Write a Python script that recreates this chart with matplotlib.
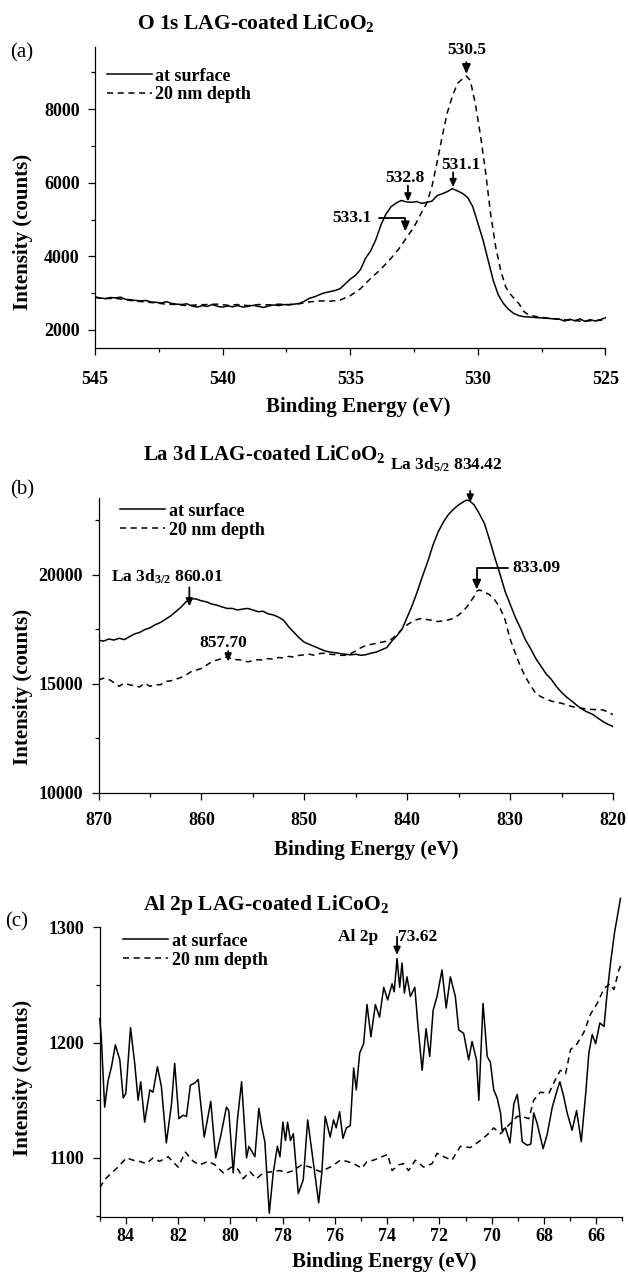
import matplotlib
matplotlib.use('Agg')
import matplotlib.pyplot as plt
from matplotlib.ticker import MultipleLocator

plt.rcParams['font.family'] = ['Liberation Serif', 'DejaVu Serif']
plt.rcParams['font.weight'] = 'bold'
plt.rcParams['axes.labelweight'] = 'bold'
plt.rcParams['mathtext.default'] = 'regular'

# ---------------- data: (a) O 1s ----------------
o1s_e_surface = [545.0, 544.8, 544.6, 544.4, 544.2, 544.0, 543.8, 543.6, 543.4, 543.2, 543.0, 542.8,
                 542.6, 542.4, 542.2, 542.0, 541.8, 541.6, 541.4, 541.2, 541.0, 540.8, 540.6, 540.4,
                 540.2, 540.0, 539.8, 539.6, 539.4, 539.2, 539.0, 538.8, 538.6, 538.4, 538.2, 538.0,
                 537.8, 537.6, 537.4, 537.2, 537.0, 536.8, 536.6, 536.4, 536.2, 536.0, 535.8, 535.6,
                 535.4, 535.2, 535.0, 534.8, 534.6, 534.4, 534.2, 534.0, 533.8, 533.6, 533.4, 533.2,
                 533.0, 532.8, 532.6, 532.4, 532.2, 532.0, 531.8, 531.6, 531.4, 531.2, 531.0, 530.8,
                 530.6, 530.4, 530.2, 530.0, 529.8, 529.6, 529.4, 529.2, 529.0, 528.8, 528.6, 528.4,
                 528.2, 528.0, 527.6, 527.2, 526.8, 526.6, 526.4, 526.2, 526.0, 525.8, 525.6, 525.4,
                 525.2, 525.0]
o1s_surface = [2900, 2870, 2850, 2880, 2870, 2890, 2830, 2820, 2800, 2790, 2800, 2760,
               2750, 2730, 2770, 2720, 2700, 2690, 2710, 2650, 2620, 2660, 2640, 2690,
               2640, 2620, 2650, 2630, 2660, 2620, 2640, 2670, 2640, 2610, 2650, 2680,
               2660, 2690, 2680, 2700, 2720, 2780, 2860, 2900, 2960, 3010, 3040, 3070,
               3120, 3250, 3380, 3480, 3640, 3950, 4150, 4450, 4850, 5150, 5350, 5450,
               5520, 5480, 5470, 5490, 5440, 5470, 5500, 5650, 5700, 5760, 5840, 5780,
               5710, 5600, 5350, 4900, 4450, 3900, 3350, 2950, 2720, 2560, 2450, 2390,
               2360, 2350, 2330, 2310, 2290, 2240, 2290, 2250, 2300, 2230, 2280, 2240,
               2280, 2330]
o1s_e_depth = [545.0, 544.6, 544.2, 543.8, 543.4, 543.0, 542.6, 542.2, 541.8, 541.4, 541.0, 540.6,
               540.2, 539.8, 539.4, 539.0, 538.6, 538.2, 537.8, 537.4, 537.0, 536.6, 536.2, 535.8,
               535.4, 535.0, 534.6, 534.2, 533.8, 533.4, 533.1, 532.8, 532.5, 532.2, 532.0, 531.8,
               531.6, 531.4, 531.2, 531.0, 530.8, 530.6, 530.45, 530.3, 530.1, 529.9, 529.7, 529.5,
               529.3, 529.1, 528.9, 528.7, 528.4, 528.2, 528.0, 527.6, 527.0, 526.5, 526.0, 525.5,
               525.0]
o1s_depth = [2880, 2850, 2860, 2820, 2780, 2760, 2730, 2700, 2690, 2660, 2680, 2690,
             2700, 2670, 2690, 2660, 2690, 2680, 2700, 2690, 2710, 2760, 2790, 2780,
             2810, 2930, 3120, 3400, 3650, 3950, 4200, 4500, 4800, 5200, 5450, 5900,
             6550, 7250, 7900, 8350, 8700, 8830, 8900, 8790, 8150, 7300, 6300, 5150,
             4250, 3600, 3150, 2950, 2720, 2500, 2400, 2350, 2300, 2270, 2240, 2250,
             2270]

# ---------------- data: (b) La 3d ----------------
la3d_e_surface = [870, 869.5, 869, 868.5, 868, 867.5, 867, 866.5, 866, 865.5, 865, 864.5, 864, 863.5,
                  863, 862.5, 862, 861.5, 861, 860.5, 860, 859.5, 859, 858.5, 858, 857.5, 857, 856.5,
                  856, 855.5, 855, 854.5, 854, 853.5, 853, 852.5, 852, 851.5, 851, 850.5, 850, 849.5,
                  849, 848.5, 848, 847.5, 847, 846.5, 846, 845.5, 845, 844.5, 844, 843.5, 843, 842.5,
                  842, 841.5, 841, 840.5, 840, 839.5, 839, 838.5, 838, 837.5, 837, 836.5, 836, 835.5,
                  835, 834.5, 834.2, 833.9, 833.5, 833, 832.5, 832, 831.5, 831, 830.5, 830, 829.5, 829,
                  828.5, 828, 827.5, 827, 826.5, 826, 825.5, 825, 824.5, 824, 823.5, 823, 822.5, 822,
                  821.5, 821, 820.5, 820]
la3d_surface = [17000, 16950, 17050, 17000, 17080, 17020, 17150, 17280, 17350, 17480, 17560, 17700, 17800, 17950,
                18100, 18300, 18500, 18750, 18900, 18880, 18800, 18750, 18650, 18600, 18520, 18450, 18450, 18380,
                18420, 18450, 18380, 18300, 18320, 18200, 18150, 18050, 17900, 17600, 17350, 17100, 16900, 16800,
                16700, 16600, 16500, 16450, 16420, 16380, 16350, 16320, 16350, 16300, 16330, 16400, 16450, 16550,
                16650, 16950, 17200, 17500, 18050, 18600, 19250, 19950, 20600, 21350, 21950, 22400, 22750, 23000,
                23200, 23350, 23420, 23370, 23200, 22800, 22350, 21600, 20800, 20050, 19250, 18650, 18050, 17550,
                17000, 16600, 16150, 15800, 15450, 15200, 14870, 14600, 14380, 14200, 14000, 13830, 13700, 13600,
                13430, 13270, 13140, 13030]
la3d_e_depth = [870, 869.5, 869, 868.5, 868, 867.5, 867, 866.5, 866, 865.5, 865, 864.5, 864, 863.5,
                863, 862.5, 862, 861.5, 861, 860.5, 860, 859.5, 859, 858.5, 858, 857.5, 857, 856.5,
                856, 855.5, 855, 854.5, 854, 853.5, 853, 852.5, 852, 851.5, 851, 850.5, 850, 849.5,
                849, 848.5, 848, 847.5, 847, 846.5, 846, 845.5, 845, 844.5, 844, 843.5, 843, 842.5,
                842, 841.5, 841, 840.5, 840, 839.5, 839, 838.5, 838, 837.5, 837, 836.5, 836, 835.5,
                835, 834.5, 834, 833.5, 833.2, 833, 832.5, 832, 831.5, 831, 830.5, 830, 829.5, 829,
                828.5, 828, 827.5, 827, 826.5, 826, 825.5, 825, 824.5, 824, 823.5, 823, 822.5, 822,
                821.5, 821, 820.5, 820]
la3d_depth = [15170, 15250, 15200, 15050, 14880, 15020, 14950, 14900, 14850, 15020, 14880, 14950, 14950, 15100,
              15130, 15200, 15280, 15400, 15550, 15620, 15700, 15850, 16000, 16080, 16150, 16230, 16120, 16100,
              16080, 16000, 16050, 16100, 16080, 16150, 16120, 16200, 16180, 16250, 16220, 16300, 16320, 16350,
              16300, 16380, 16400, 16350, 16330, 16300, 16300, 16380, 16500, 16650, 16750, 16800, 16850, 16900,
              16950, 17050, 17250, 17500, 17700, 17850, 17950, 18000, 17930, 17900, 17850, 17880, 17920, 18000,
              18150, 18350, 18650, 19000, 19250, 19300, 19200, 19080, 18850, 18500, 17950, 17050, 16400, 15800,
              15300, 14900, 14550, 14400, 14300, 14200, 14150, 14100, 14030, 13950, 13900, 13870, 13830, 13820,
              13800, 13800, 13700, 13580]

# ---------------- data: (c) Al 2p ----------------
al2p_e_surface = [85.0, 84.94, 84.81, 84.68, 84.55, 84.40, 84.23, 84.10, 84.00, 83.82, 83.66, 83.53,
                  83.43, 83.28, 83.08, 82.96, 82.79, 82.64, 82.45, 82.25, 82.13, 81.97, 81.81, 81.68,
                  81.53, 81.36, 81.23, 81.00, 80.75, 80.56, 80.36, 80.15, 80.06, 79.89, 79.73, 79.57,
                  79.38, 79.29, 79.06, 78.91, 78.80, 78.68, 78.51, 78.36, 78.20, 78.10, 77.99, 77.89,
                  77.81, 77.70, 77.59, 77.40, 77.21, 77.04, 76.82, 76.62, 76.50, 76.37, 76.18, 76.05,
                  75.95, 75.82, 75.69, 75.56, 75.41, 75.28, 75.18, 75.05, 74.90, 74.77, 74.62, 74.45,
                  74.29, 74.13, 73.98, 73.81, 73.73, 73.62, 73.52, 73.43, 73.34, 73.24, 73.11, 72.94,
                  72.83, 72.66, 72.51, 72.37, 72.24, 72.09, 71.90, 71.74, 71.58, 71.39, 71.26, 71.07,
                  70.88, 70.75, 70.58, 70.49, 70.33, 70.17, 70.05, 69.92, 69.79, 69.66, 69.60, 69.47,
                  69.30, 69.15, 69.02, 68.93, 68.83, 68.64, 68.50, 68.39, 68.26, 68.03, 67.87, 67.68,
                  67.49, 67.39, 67.24, 67.11, 66.92, 66.75, 66.57, 66.40, 66.28, 66.15, 66.02, 65.86,
                  65.70, 65.58, 65.45, 65.30, 65.07]
al2p_surface = [1221, 1205, 1144, 1167, 1179, 1198, 1185, 1152, 1156, 1213, 1182, 1150,
                1166, 1131, 1159, 1157, 1179, 1162, 1113, 1147, 1182, 1134, 1137, 1136,
                1163, 1165, 1168, 1118, 1149, 1100, 1120, 1144, 1141, 1087, 1133, 1166,
                1100, 1110, 1101, 1143, 1127, 1114, 1052, 1087, 1110, 1101, 1131, 1115,
                1131, 1115, 1121, 1069, 1081, 1133, 1095, 1061, 1087, 1136, 1118, 1133,
                1126, 1140, 1117, 1126, 1128, 1178, 1159, 1191, 1199, 1233, 1205, 1233,
                1222, 1248, 1237, 1251, 1244, 1273, 1248, 1269, 1243, 1257, 1240, 1248,
                1217, 1176, 1212, 1188, 1228, 1240, 1263, 1230, 1257, 1240, 1211, 1208,
                1185, 1201, 1185, 1150, 1234, 1188, 1183, 1159, 1152, 1139, 1124, 1126,
                1113, 1147, 1155, 1139, 1114, 1111, 1112, 1139, 1130, 1108, 1121, 1144,
                1159, 1166, 1153, 1139, 1124, 1141, 1114, 1156, 1191, 1207, 1199, 1217,
                1214, 1243, 1269, 1295, 1325]
al2p_e_depth = [85.0, 84.81, 84.55, 84.30, 83.98, 83.72, 83.47, 83.21, 82.96, 82.71, 82.38, 82.00,
                81.72, 81.42, 81.17, 80.85, 80.59, 80.27, 79.96, 79.70, 79.51, 79.25, 79.00, 78.74,
                78.42, 78.10, 77.85, 77.59, 77.27, 76.94, 76.56, 76.18, 75.79, 75.54, 75.28, 74.96,
                74.77, 74.52, 74.20, 73.98, 73.81, 73.56, 73.37, 73.18, 72.92, 72.60, 72.28, 72.09,
                71.83, 71.52, 71.20, 70.81, 70.49, 70.17, 69.92, 69.66, 69.28, 69.02, 68.83, 68.58,
                68.39, 68.13, 67.81, 67.56, 67.37, 67.17, 66.98, 66.73, 66.47, 66.21, 65.96, 65.70,
                65.47, 65.32, 65.13, 65.00]
al2p_depth = [1074, 1081, 1087, 1092, 1100, 1098, 1097, 1095, 1100, 1097, 1101, 1092,
              1105, 1097, 1094, 1097, 1094, 1087, 1092, 1090, 1082, 1088, 1082, 1087,
              1088, 1089, 1087, 1089, 1094, 1092, 1088, 1092, 1098, 1097, 1095, 1091,
              1097, 1098, 1101, 1103, 1089, 1094, 1095, 1089, 1098, 1092, 1095, 1104,
              1101, 1098, 1110, 1109, 1114, 1120, 1126, 1121, 1130, 1136, 1136, 1134,
              1150, 1157, 1156, 1168, 1176, 1173, 1194, 1199, 1209, 1225, 1234, 1247,
              1251, 1246, 1263, 1270]

series_labels = ['at surface', '20 nm depth']

# ---------------- figure ----------------
W, H = 628, 1277
fig = plt.figure(figsize=(W / 100, H / 100), dpi=100)
fig.patch.set_facecolor('white')


def px_axes(l, r, t, b):
    return fig.add_axes([l / W, 1 - b / H, (r - l) / W, (b - t) / H])


def fig_text(px, py, s, **kw):
    fig.text(px / W, 1 - py / H, s, **kw)


LW = 1.1
DASH = (0, (4, 3))
ARROW = dict(arrowstyle='-|>,head_length=0.45,head_width=0.2', lw=1.3, color='black',
             shrinkA=1, shrinkB=0)
ANN_FS = 12.5


def style(ax, xlim, ylim, xmaj, xmin, ymaj, ymin, xpad, ypad):
    ax.set_xlim(*xlim)
    ax.set_ylim(*ylim)
    for s in ['top', 'right']:
        ax.spines[s].set_visible(False)
    for s in ['left', 'bottom']:
        ax.spines[s].set_linewidth(0.9)
    ax.xaxis.set_major_locator(MultipleLocator(xmaj))
    ax.xaxis.set_minor_locator(MultipleLocator(xmin))
    ax.yaxis.set_major_locator(MultipleLocator(ymaj))
    ax.yaxis.set_minor_locator(MultipleLocator(ymin))
    ax.tick_params(which='major', direction='out', length=5, width=0.9, labelsize=13)
    ax.tick_params(which='minor', direction='out', length=3, width=0.9)
    ax.tick_params(axis='x', which='major', pad=xpad)
    ax.tick_params(axis='y', which='major', pad=ypad)


def labels(ax, xl, yl):
    ax.set_xlabel('Binding Energy (eV)', fontsize=15)
    ax.set_ylabel('Intensity (counts)', fontsize=15)
    ax.xaxis.label.set_va('center')
    ax.yaxis.label.set_va('center')
    ax.xaxis.set_label_coords(*xl)
    ax.yaxis.set_label_coords(*yl)


def legend(ax, x, y):
    ax.legend(loc='upper left', bbox_to_anchor=(x, y), frameon=False, fontsize=13,
              handlelength=2.5, handletextpad=0.2, labelspacing=0.1,
              borderpad=0, borderaxespad=0)


# ----- (a) -----
axa = px_axes(95, 605.5, 46.7, 348.3)
axa.plot(o1s_e_surface, o1s_surface, color='black', lw=LW, label=series_labels[0])
axa.plot(o1s_e_depth, o1s_depth, color='black', lw=LW, ls=DASH, label=series_labels[1])
style(axa, (545, 525), (1500, 9700), 5, 2.5, 2000, 1000, 11, 6)
labels(axa, (0.515, -0.195), (-0.141, 0.386))
legend(axa, 0.0229, 0.931)
axa.annotate('530.5', xy=(530.45, 8960), xytext=(530.45, 9610), ha='center', va='center',
             fontsize=ANN_FS, arrowprops=ARROW, annotation_clip=False)
axa.text(530.66, 6484, '531.1', ha='center', va='center', fontsize=ANN_FS)
axa.annotate('', xy=(530.97, 5880), xytext=(530.97, 6320), arrowprops=ARROW)
axa.text(532.86, 6122, '532.8', ha='center', va='center', fontsize=ANN_FS)
axa.annotate('', xy=(532.74, 5490), xytext=(532.74, 5960), arrowprops=ARROW)
axa.annotate('533.1', xy=(532.84, 4680), xytext=(534.15, 5043), ha='right', va='center',
             fontsize=ANN_FS,
             arrowprops=dict(ARROW, shrinkA=3, connectionstyle='angle,angleA=0,angleB=90,rad=0'))
fig_text(137, 23, 'O 1s LAG-coated LiCoO$_2$', fontsize=15.5, ha='left', va='center')
fig_text(10, 53, '(a)', fontsize=15, fontweight='normal', ha='left', va='center')

# ----- (b) -----
axb = px_axes(98.5, 613, 498.3, 792.7)
axb.plot(la3d_e_surface, la3d_surface, color='black', lw=LW, label=series_labels[0])
axb.plot(la3d_e_depth, la3d_depth, color='black', lw=LW, ls=DASH, label=series_labels[1])
style(axb, (870, 820), (10000, 23500), 10, 5, 5000, 2500, 9, 6)
labels(axb, (0.52, -0.195), (-0.147, 0.359))
legend(axb, 0.0418, 0.985)
axb.text(836.25, 25050, 'La 3d$_{5/2}$ 834.42', ha='center', va='center', fontsize=ANN_FS)
axb.annotate('', xy=(833.88, 23300), xytext=(833.88, 23900), arrowprops=ARROW, annotation_clip=False)
axb.text(863.35, 19922, 'La 3d$_{3/2}$ 860.01', ha='center', va='center', fontsize=ANN_FS)
axb.annotate('', xy=(861.17, 18540), xytext=(861.17, 19480), arrowprops=ARROW)
axb.text(857.88, 16861, '857.70', ha='center', va='center', fontsize=ANN_FS)
axb.annotate('', xy=(857.40, 16010), xytext=(857.40, 16560), arrowprops=ARROW)
axb.annotate('833.09', xy=(833.24, 19311), xytext=(829.8, 20308), ha='left', va='center',
             fontsize=ANN_FS,
             arrowprops=dict(ARROW, shrinkA=1, connectionstyle='angle,angleA=0,angleB=90,rad=0'))
fig_text(143, 454, 'La 3d LAG-coated LiCoO$_2$', fontsize=15, ha='left', va='center')
fig_text(10, 490, '(b)', fontsize=15, fontweight='normal', ha='left', va='center')

# ----- (c) -----
axc = px_axes(99.7, 622.3, 927.3, 1216.7)
axc.plot(al2p_e_surface, al2p_surface, color='black', lw=LW, label=series_labels[0], clip_on=False)
axc.plot(al2p_e_depth, al2p_depth, color='black', lw=LW, ls=DASH, label=series_labels[1])
style(axc, (85, 65), (1049, 1300), 2, 1, 100, 50, 3, 6)
labels(axc, (0.544, -0.157), (-0.147, 0.479))
legend(axc, 0.0446, 0.981)
axc.text(75.10, 1292, 'Al 2p', ha='center', va='center', fontsize=ANN_FS)
axc.text(73.57, 1292, '73.62', ha='left', va='center', fontsize=ANN_FS)
axc.annotate('', xy=(73.62, 1276), xytext=(73.62, 1293), arrowprops=ARROW)
fig_text(143, 905, 'Al 2p LAG-coated LiCoO$_2$', fontsize=15.5, ha='left', va='center')
fig_text(5, 922, '(c)', fontsize=15, fontweight='normal', ha='left', va='center')

fig.savefig('out.png', dpi=100, facecolor='white')
